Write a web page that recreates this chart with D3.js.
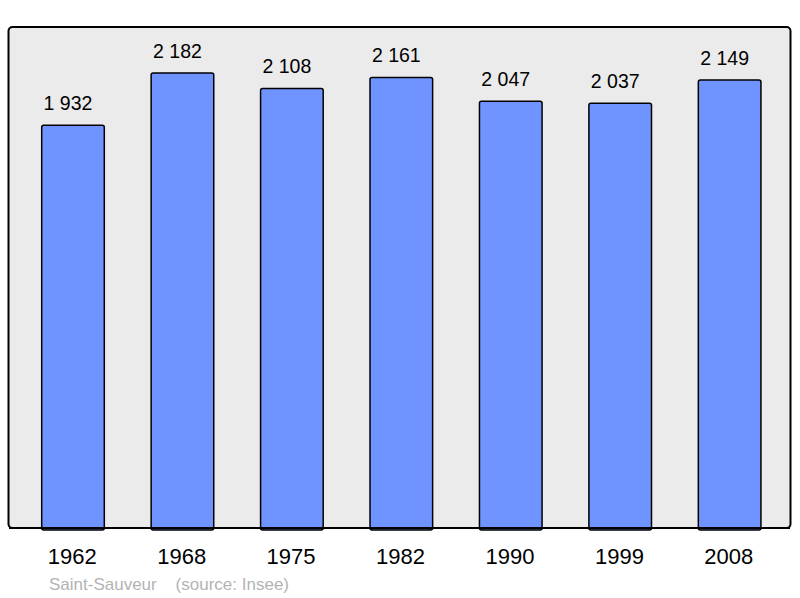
<!DOCTYPE html>
<html>
<head>
<meta charset="utf-8">
<script src="https://cdn.jsdelivr.net/npm/d3@7"></script>
<style>
  html, body { margin: 0; padding: 0; background: #ffffff; }
  svg { display: block; }
</style>
</head>
<body>
<script>
const years = ["1962", "1968", "1975", "1982", "1990", "1999", "2008"];
const population = [1932, 2182, 2108, 2161, 2047, 2037, 2149];
const valueLabels = ["1 932", "2 182", "2 108", "2 161", "2 047", "2 037", "2 149"];
const footerText = "Saint-Sauveur    (source: Insee)";

const W = 800, H = 598;
const svg = d3.select("body").append("svg").attr("width", W).attr("height", H);

// frame
svg.append("rect")
  .attr("x", 8.5).attr("y", 27).attr("width", 782).attr("height", 501)
  .attr("rx", 4).attr("ry", 4)
  .attr("fill", "#ebebeb").attr("stroke", "#000").attr("stroke-width", 2);

const x = d3.scaleBand().domain(years).range([18.28, 784.36])
  .paddingInner(0.428).paddingOuter(0.214);
const y = d3.scaleLinear().domain([0, 2400]).range([528, 27.55]);

const g = svg.append("g");
g.selectAll("rect.bar").data(years).join("rect")
  .attr("class", "bar")
  .attr("x", d => x(d))
  .attr("y", (d, i) => y(population[i]))
  .attr("width", x.bandwidth())
  .attr("height", (d, i) => y(0) - y(population[i]) + 2)
  .attr("rx", 2).attr("ry", 2)
  .attr("fill", "#7094ff").attr("stroke", "#000").attr("stroke-width", 1.5);

// redraw frame bottom line over bars
svg.append("line").attr("x1", 9).attr("x2", 790).attr("y1", 528).attr("y2", 528)
  .attr("stroke", "#000").attr("stroke-width", 2);

g.selectAll("text.val").data(years).join("text")
  .attr("class", "val")
  .attr("x", d => x(d) + x.bandwidth() / 2 - 5)
  .attr("y", (d, i) => y(population[i]) - 15)
  .attr("text-anchor", "middle")
  .attr("font-family", "Liberation Sans, Arial, sans-serif")
  .attr("font-size", 19.5)
  .attr("fill", "#000")
  .text((d, i) => valueLabels[i]);

// x axis labels
const xAxis = d3.axisBottom(x).tickSize(0).tickPadding(0);
const ax = svg.append("g").attr("transform", "translate(0,548)").call(xAxis);
ax.select(".domain").remove();
ax.selectAll("text")
  .attr("dy", 0).attr("y", 16).attr("x", -0.8)
  .attr("font-family", "Liberation Sans, Arial, sans-serif")
  .attr("font-size", 22).attr("fill", "#000");

svg.append("text")
  .attr("x", 49).attr("y", 590)
  .attr("font-family", "Liberation Sans, Arial, sans-serif")
  .attr("font-size", 17).attr("fill", "#b3b3b3")
  .attr("xml:space", "preserve")
  .style("white-space", "pre")
  .text(footerText);
</script>
</body>
</html>
